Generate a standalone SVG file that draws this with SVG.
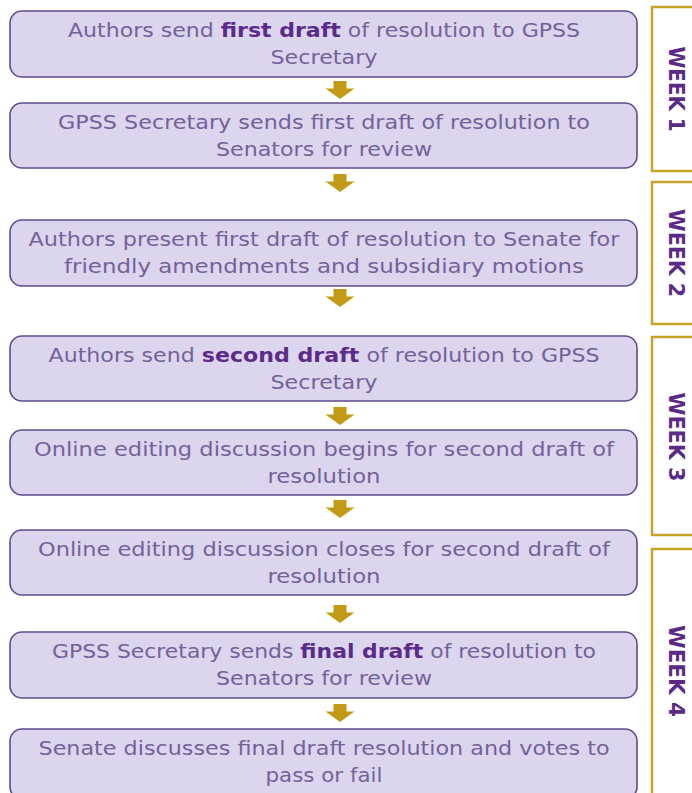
<svg xmlns="http://www.w3.org/2000/svg" width="692" height="793" viewBox="0 0 692 793">
<style>
.box{fill:#dcd5ee;stroke:#5e4b8c;stroke-width:1.6}
.t{font-family:"DejaVu Sans","Noto Sans",sans-serif;font-size:19px;fill:#73629a;text-anchor:middle}
.b{font-weight:bold;fill:#5b2b8a}
.wk{fill:none;stroke:#c8a22a;stroke-width:2.5}
.wt{font-family:"DejaVu Sans","Liberation Sans",sans-serif;font-size:21px;font-weight:bold;fill:#5a2a86;text-anchor:middle}
.arr{fill:#c29a16}
</style>
<defs>
<path id="a" d="M-6.5,0 H6.5 V7.5 H14.5 L0,18 L-14.5,7.5 H-6.5 Z"/>
</defs>
<rect width="692" height="793" fill="#ffffff"/>
<g id="connectors">
<use href="#a" class="arr" x="340" y="81"/>
<use href="#a" class="arr" x="340" y="174"/>
<use href="#a" class="arr" x="340" y="289"/>
<use href="#a" class="arr" x="340" y="407"/>
<use href="#a" class="arr" x="340" y="500"/>
<use href="#a" class="arr" x="340" y="605"/>
<use href="#a" class="arr" x="340" y="704"/>
</g>
<g id="n1"><rect class="box" x="10" y="11" width="627" height="66" rx="12"/>
<text class="t" x="324" y="37" textLength="512" lengthAdjust="spacingAndGlyphs">Authors send <tspan class="b">first draft</tspan> of resolution to GPSS</text>
<text class="t" x="324" y="64" textLength="107" lengthAdjust="spacingAndGlyphs">Secretary</text></g>
<g id="n2"><rect class="box" x="10" y="103" width="627" height="65" rx="12"/>
<text class="t" x="324" y="129" textLength="532" lengthAdjust="spacingAndGlyphs">GPSS Secretary sends first draft of resolution to</text>
<text class="t" x="324" y="156" textLength="216" lengthAdjust="spacingAndGlyphs">Senators for review</text></g>
<g id="n3"><rect class="box" x="10" y="220" width="627" height="66" rx="12"/>
<text class="t" x="324" y="246" textLength="591" lengthAdjust="spacingAndGlyphs">Authors present first draft of resolution to Senate for</text>
<text class="t" x="324" y="273" textLength="520" lengthAdjust="spacingAndGlyphs">friendly amendments and subsidiary motions</text></g>
<g id="n4"><rect class="box" x="10" y="336" width="627" height="65" rx="12"/>
<text class="t" x="324" y="362" textLength="551" lengthAdjust="spacingAndGlyphs">Authors send <tspan class="b">second draft</tspan> of resolution to GPSS</text>
<text class="t" x="324" y="389" textLength="107" lengthAdjust="spacingAndGlyphs">Secretary</text></g>
<g id="n5"><rect class="box" x="10" y="430" width="627" height="65" rx="12"/>
<text class="t" x="324" y="456" textLength="580" lengthAdjust="spacingAndGlyphs">Online editing discussion begins for second draft of</text>
<text class="t" x="324" y="483" textLength="113" lengthAdjust="spacingAndGlyphs">resolution</text></g>
<g id="n6"><rect class="box" x="10" y="530" width="627" height="65" rx="12"/>
<text class="t" x="324" y="556" textLength="572" lengthAdjust="spacingAndGlyphs">Online editing discussion closes for second draft of</text>
<text class="t" x="324" y="583" textLength="113" lengthAdjust="spacingAndGlyphs">resolution</text></g>
<g id="n7"><rect class="box" x="10" y="632" width="627" height="66" rx="12"/>
<text class="t" x="324" y="658" textLength="544" lengthAdjust="spacingAndGlyphs">GPSS Secretary sends <tspan class="b">final draft</tspan> of resolution to</text>
<text class="t" x="324" y="685" textLength="216" lengthAdjust="spacingAndGlyphs">Senators for review</text></g>
<g id="n8"><rect class="box" x="10" y="729" width="627" height="70" rx="12"/>
<text class="t" x="324" y="755" textLength="571" lengthAdjust="spacingAndGlyphs">Senate discusses final draft resolution and votes to</text>
<text class="t" x="324" y="782" textLength="117" lengthAdjust="spacingAndGlyphs">pass or fail</text></g>
<g id="week1"><rect class="wk" x="652" y="7" width="60" height="164"/>
<text class="wt" transform="translate(669,89) rotate(90)" textLength="85" lengthAdjust="spacingAndGlyphs">WEEK 1</text></g>
<g id="week2"><rect class="wk" x="652" y="182" width="60" height="142"/>
<text class="wt" transform="translate(669,253) rotate(90)" textLength="88" lengthAdjust="spacingAndGlyphs">WEEK 2</text></g>
<g id="week3"><rect class="wk" x="652" y="337" width="60" height="198"/>
<text class="wt" transform="translate(669,437) rotate(90)" textLength="89" lengthAdjust="spacingAndGlyphs">WEEK 3</text></g>
<g id="week4"><rect class="wk" x="652" y="549" width="60" height="260"/>
<text class="wt" transform="translate(669,671) rotate(90)" textLength="92" lengthAdjust="spacingAndGlyphs">WEEK 4</text></g>
</svg>
